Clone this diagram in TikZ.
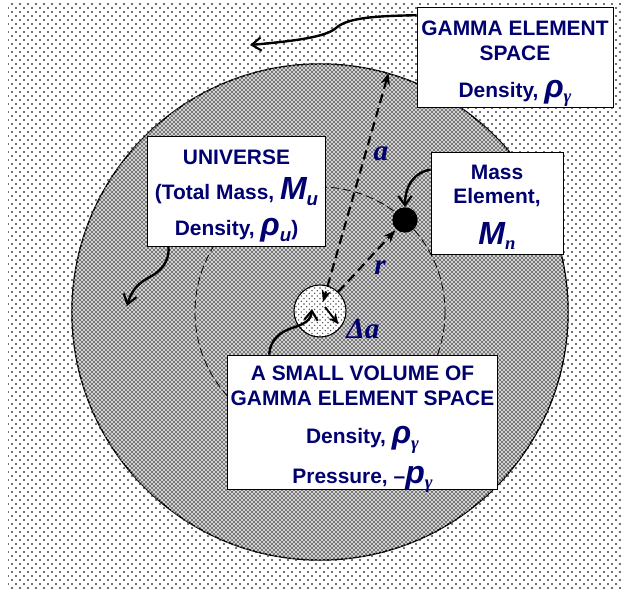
\documentclass[tikz,border=0pt]{standalone}
\usepackage{fontspec}
\setmainfont{Liberation Sans}
\newfontfamily\tnr{Liberation Serif}
\usepackage{xcolor}
\usepackage{tikz}
\usetikzlibrary{patterns,arrows.meta,calc}
\definecolor{navyink}{RGB}{0,0,112}
\pgfdeclarepatternformonly{gammadots}{\pgfqpoint{-1pt}{-1pt}}{\pgfqpoint{7pt}{7pt}}{\pgfqpoint{6pt}{6pt}}{%
  \pgfpathcircle{\pgfqpoint{0pt}{0pt}}{0.8pt}%
  \pgfpathcircle{\pgfqpoint{3pt}{3pt}}{0.8pt}%
  \pgfusepath{fill}}
\pgfdeclarepatternformonly{finedots}{\pgfqpoint{-1pt}{-1pt}}{\pgfqpoint{5pt}{5pt}}{\pgfqpoint{4pt}{4pt}}{%
  \pgfpathcircle{\pgfqpoint{0pt}{0pt}}{0.6pt}%
  \pgfpathcircle{\pgfqpoint{2pt}{2pt}}{0.6pt}%
  \pgfusepath{fill}}
\pgfdeclarepatternformonly{meshdark}{\pgfqpoint{-1pt}{-1pt}}{\pgfqpoint{4pt}{4pt}}{\pgfqpoint{3pt}{3pt}}{%
  \pgfpathcircle{\pgfqpoint{0pt}{0pt}}{0.6pt}%
  \pgfpathcircle{\pgfqpoint{1.5pt}{1.5pt}}{0.6pt}%
  \pgfusepath{fill}}
\pgfdeclarepatternformonly{meshlight}{\pgfqpoint{-1pt}{-1pt}}{\pgfqpoint{4pt}{4pt}}{\pgfqpoint{3pt}{3pt}}{%
  \pgfpathcircle{\pgfqpoint{1.5pt}{0pt}}{0.6pt}%
  \pgfpathcircle{\pgfqpoint{0pt}{1.5pt}}{0.6pt}%
  \pgfusepath{fill}}
\newcommand{\symb}[1]{{\bfseries\itshape\fontsize{24}{24}\selectfont #1}}
\newcommand{\lowidx}[1]{\raisebox{-0.5ex}{\fontsize{14}{14}\selectfont #1}}
\newcommand{\gam}{\lowidx{\tnr\itshape γ}}
\tikzset{
  boxnode/.style={draw,fill=white,line width=0.7pt,inner sep=0pt},
  boxtext/.style={anchor=north,align=center,text=navyink,inner sep=0pt,
    font=\bfseries\fontsize{15.7}{18.5}\selectfont},
  curvyarrow/.style={-{Straight Barb[length=7pt,width=10pt,line width=1.6pt]},line width=1.8pt},
  radline/.style={line width=1.6pt,dash pattern=on 7pt off 4pt,-{Stealth[length=9pt,width=7pt]}},
  symlab/.style={text=navyink,font=\tnr\bfseries\itshape\fontsize{22}{22}\selectfont}
}
\begin{document}
\begin{tikzpicture}[x=0.75pt,y=-0.75pt]
  \useasboundingbox (0,0) rectangle (621,592);
  \fill[pattern=gammadots,pattern color=black!75] (8,4) rectangle (621,588);
  \node[circle,draw,line width=1.1pt,minimum size=372pt,inner sep=0pt,
    preaction={fill=gray!70},pattern=meshdark,pattern color=black!70,
    postaction={pattern=meshlight,pattern color=white}] (ucirc) at (320,312) {};
  \draw[dash pattern=on 6pt off 3pt,line width=0.6pt] (320,312) circle [radius=125];
  \node[circle,draw,line width=0.8pt,minimum size=39pt,inner sep=0pt,
    preaction={fill=white},pattern=finedots,pattern color=black!70] (sc) at (320,311) {};
  \node[circle,fill=black,minimum size=19pt,inner sep=0pt] (mdot) at (405,220) {};
  \coordinate (acen) at (323,302);
  \coordinate (rbeg) at (338,292);
  \draw[radline,{Stealth[length=9pt,width=7pt]}-{Stealth[length=9pt,width=7pt]}] (ucirc.74) -- (acen);
  \draw[radline,shorten >=1pt] (rbeg) -- (mdot);
  \draw[line width=1.4pt,-{Stealth[length=8pt,width=7pt]},shorten >=3pt] (325,307) -- (sc.-38);
  \node[symlab] (alab) at (381,154) {a};
  \node[symlab] (rlab) at (380,268) {r};
  \node[symlab] (dalab) at (363,329) {Δa};
  \node[boxnode,minimum width=147pt,minimum height=75pt] (gbox) at (515,57) {};
  \node[boxtext] (gtext) at (515,20.5)
    {GAMMA ELEMENT\\SPACE\\[9.5pt]Density, \symb{ρ}\gam};
  \node[boxnode,minimum width=133pt,minimum height=82pt] (ubox) at (236.5,191.5) {};
  \node[boxtext] (utext) at (236.5,149.5)
    {UNIVERSE\\[8pt](Total Mass, \symb{M}\lowidx{\itshape u}\\[8.5pt]Density, \symb{ρ}\lowidx{\itshape u})};
  \node[boxnode,minimum width=99pt,minimum height=77pt] (mbox) at (497,203.5) {};
  \node[boxtext] (mtext) at (497,164.5)
    {Mass\\Element,\\[10.5pt]\symb{M}\lowidx{\tnr\bfseries\itshape n}};
  \node[boxnode,minimum width=202pt,minimum height=101pt] (vbox) at (362.5,422.5) {};
  \node[boxtext] (vtext) at (362.5,365.5)
    {A SMALL VOLUME OF\\GAMMA ELEMENT SPACE\\[10.5pt]Density, \symb{ρ}\gam\\[8.5pt]Pressure, –\symb{p}\gam};
  \coordinate (gtip) at (250,45);
  \coordinate (utip) at (127,306);
  \coordinate (vtip) at (312,309);
  \draw[curvyarrow] (gbox.157) .. controls (380,16) and (348,17) .. (336,28)
    .. controls (326,37) and (295,41) .. (gtip);
  \draw[curvyarrow] (ubox.219) .. controls (170,262) and (160,272) .. (148,278)
    .. controls (137,284) and (131,292) .. (utip);
  \draw[curvyarrow] (mbox.153) .. controls (415,172) and (405,185) .. (mdot.north);
  \draw[curvyarrow] (vbox.144) .. controls (270,340) and (280,332) .. (292,328)
    .. controls (305,324) and (311,320) .. (vtip);
\end{tikzpicture}
\end{document}
